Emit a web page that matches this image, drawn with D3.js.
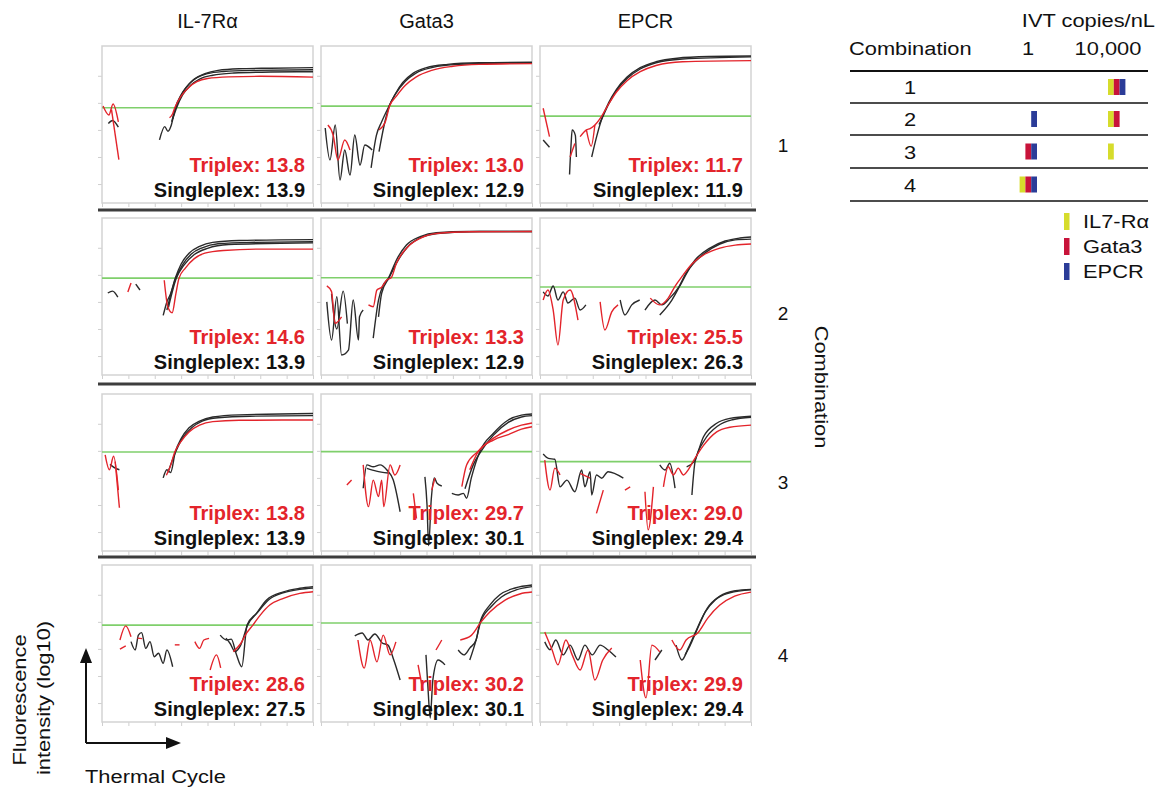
<!DOCTYPE html>
<html>
<head>
<meta charset="utf-8">
<script src="https://cdn.jsdelivr.net/npm/d3@7"></script>
<style>
  body { margin: 0; background: #fff; }
  text { font-family: "Liberation Sans", Arial, sans-serif; }
</style>
</head>
<body>
<svg id="fig" width="1160" height="792"></svg>
<script>
// ---- data ----
const genes = ["IL-7Rα", "Gata3", "EPCR"];
const combos = ["1", "2", "3", "4"];
const triplexCt = [[13.8, 13.0, 11.7], [14.6, 13.3, 25.5], [13.8, 29.7, 29.0], [28.6, 30.2, 29.9]];
const singleplexCt = [[13.9, 12.9, 11.9], [13.9, 12.9, 26.3], [13.9, 30.1, 29.4], [27.5, 30.1, 29.4]];
// threshold (log10 fluorescence) per panel
const thresholds = [[2.82, 2.88, 2.51], [2.88, 2.89, 2.55], [2.96, 2.97, 2.6], [2.88, 2.96, 2.59]];

// amplification traces: [cycle, log10 fluorescence]; k: "s" singleplex (black), "t" triplex (red)
const il7r_combo1 = [
  {k: "s", p: [[10.9,1.63],[11.9,2.12],[12.5,1.95],[13.1,2.15],[13.9,2.82],[15,3.3],[16,3.58],[17.5,3.88],[19.5,4.08],[22,4.2],[26,4.26],[32,4.28],[40,4.3]]},
  {k: "s", p: [[13.2,2.3],[14.0,2.82],[15.2,3.35],[16.5,3.7],[18,3.93],[20,4.08],[23,4.16],[28,4.2],[40,4.22]]},
  {k: "s", p: [[13.4,2.4],[14.1,2.8],[15.3,3.3],[16.8,3.65],[18.5,3.88],[21,4.02],[25,4.1],[32,4.14],[40,4.15]]},
  {k: "s", p: [[1.2,2.24],[2.0,2.35],[3.1,2.1]]},
  {k: "t", p: [[12.8,2.45],[13.4,2.6],[13.8,2.82],[15,3.25],[16.5,3.58],[18,3.78],[20,3.9],[24,3.96],[30,3.98],[40,3.95]]},
  {k: "t", p: [[0.2,2.88],[1.3,2.55],[2.1,2.96],[3.1,2.3]]},
  {k: "t", p: [[1.8,2.75],[3.2,0.9]]}
];
const gata3_combo1 = [
  {k: "s", p: [[0.8,2.07],[1.7,0.89],[2.7,2.18],[3.6,0.15],[4.5,1.26],[5.5,0.33],[6.4,1.81],[7.4,0.7],[8.3,1.44],[9.7,1.26]]},
  {k: "s", p: [[9.5,0.6],[10.5,1.8],[11.5,2.3],[12.9,2.88],[14,3.3],[15.5,3.75],[17.5,4.1],[20,4.3],[24,4.42],[30,4.48],[40,4.5]]},
  {k: "s", p: [[11.0,1.2],[12,2.2],[12.95,2.88],[14.2,3.35],[16,3.8],[18,4.1],[21,4.3],[26,4.42],[40,4.48]]},
  {k: "t", p: [[1.3,2.18],[2.3,1.81],[3.2,0.89],[4.5,1.63],[5.5,1.26]]},
  {k: "t", p: [[11,2.0],[12.2,2.3],[13,2.88],[14.3,3.25],[16,3.65],[18,3.95],[21,4.2],[25,4.35],[30,4.42],[40,4.45]]}
];
const epcr_combo1 = [
  {k: "s", p: [[0.6,1.63],[1.8,1.36]]},
  {k: "s", p: [[5.6,0.35],[5.9,1.5],[6.1,2.0],[6.7,1.8],[6.9,1.0]]},
  {k: "s", p: [[9.8,1.0],[10.8,1.8],[11.9,2.51],[13,3.0],[14.5,3.5],[16.5,3.95],[19,4.3],[22,4.52],[26,4.65],[32,4.71],[40,4.73]]},
  {k: "s", p: [[11.2,2.2],[11.95,2.51],[13,2.95],[14.5,3.45],[16.5,3.9],[19,4.25],[22,4.48],[27,4.62],[40,4.7]]},
  {k: "t", p: [[0.6,2.8],[1.8,1.75]]},
  {k: "t", p: [[5.7,1.0],[6.6,1.5]]},
  {k: "t", p: [[7.6,1.75],[8.8,2.0],[9.5,2.05],[10.4,2.18],[11.7,2.51],[13,2.95],[14.5,3.4],[16.5,3.82],[19,4.15],[22,4.38],[27,4.52],[40,4.56]]},
  {k: "t", p: [[8.8,2.0],[9.7,1.4],[10.4,2.18]]}
];
const il7r_combo2 = [
  {k: "s", p: [[1.1,2.33],[2.0,2.4],[3.0,2.18]]},
  {k: "s", p: [[6.4,2.66],[7.2,2.44]]},
  {k: "s", p: [[11.6,1.5],[12.3,2.0],[13.0,2.3],[13.9,2.88],[15,3.4],[16.5,3.8],[18.5,4.05],[21,4.2],[26,4.27],[40,4.3]]},
  {k: "s", p: [[12.3,1.7],[13.2,2.4],[14.0,2.88],[15.2,3.35],[17,3.78],[19,4.0],[22,4.15],[28,4.2],[40,4.22]]},
  {k: "s", p: [[12.6,1.8],[14.1,2.88],[15.5,3.35],[17.5,3.75],[20,3.98],[24,4.12],[40,4.18]]},
  {k: "t", p: [[4.9,2.37],[5.5,2.7]]},
  {k: "t", p: [[11.8,2.8],[12.5,1.8],[13.3,1.6],[14.0,2.3],[14.6,2.88],[15.8,3.25],[17.5,3.6],[19.5,3.8],[23,3.9],[30,3.95],[40,3.95]]}
];
const gata3_combo2 = [
  {k: "s", p: [[1.1,2.0],[2.0,0.59],[3.0,2.19],[3.9,0.04],[5.2,0.22],[6.1,2.07],[7.1,0.59],[7.3,1.45],[8.0,1.7]]},
  {k: "s", p: [[2.0,2.3],[3.0,1.0],[4.2,2.4],[5.0,1.2]]},
  {k: "s", p: [[9.9,0.66],[10.9,2.07],[11.8,2.62],[12.75,2.87],[14.3,3.55],[16.2,4.1],[18.8,4.41],[21.9,4.56],[28,4.6],[40,4.6]]},
  {k: "s", p: [[10.9,1.45],[11.5,2.32],[12.9,2.89],[14.5,3.5],[16.5,4.05],[19,4.38],[22,4.53],[30,4.6],[40,4.6]]},
  {k: "t", p: [[1.1,2.59],[2.0,2.38],[2.65,1.21],[3.9,1.45]]},
  {k: "t", p: [[9.0,1.89],[9.9,1.82],[10.6,2.44],[11.5,2.54],[12.45,2.81],[13.3,2.89],[14.3,3.43],[16.2,3.98],[18.8,4.35],[21.9,4.53],[28.2,4.59],[40,4.6]]}
];
const epcr_combo2 = [
  {k: "s", p: [[0.6,2.37],[1.5,2.22],[2.5,2.59],[3.4,2.07],[4.4,2.37],[5.3,1.96],[6.6,2.14],[7.6,1.7],[8.7,1.89]]},
  {k: "s", p: [[15.2,2.07],[16.1,1.52],[17.4,1.89],[18.9,2.07]]},
  {k: "s", p: [[19.9,1.7],[21.8,2.07],[23.1,1.89],[24.6,2.14],[26.3,2.55],[27.5,3.0],[29.4,3.55],[32.2,3.99],[35.1,4.25],[37.9,4.36],[40,4.4]]},
  {k: "s", p: [[22.7,1.52],[25,2.07],[26.4,2.55],[28.4,3.25],[31.3,3.81],[34.1,4.14],[37,4.29],[40,4.32]]},
  {k: "t", p: [[0.6,2.07],[1.5,2.44],[2.5,1.7],[3.4,0.41],[4.4,2.07],[5.7,2.44],[7.2,1.33]]},
  {k: "t", p: [[11.4,2.0],[12.3,0.96],[13.6,1.63],[14.8,1.89]]},
  {k: "t", p: [[20.9,2.14],[22.7,1.89],[24.3,2.14],[25.5,2.55],[27,2.96],[28.8,3.4],[31.3,3.77],[34.1,3.99],[37,4.1],[40,4.14]]}
];
const il7r_combo3 = [
  {k: "s", p: [[1.5,2.5],[2.6,2.35],[3.3,2.3]]},
  {k: "s", p: [[11.6,2.0],[12.3,2.3],[13.0,2.2],[13.9,2.96],[15,3.45],[16.5,3.85],[18.5,4.1],[21,4.25],[26,4.33],[40,4.38]]},
  {k: "s", p: [[12.5,2.2],[13.95,2.96],[15.2,3.45],[17,3.85],[19,4.1],[22,4.22],[28,4.28],[40,4.3]]},
  {k: "t", p: [[0.6,2.85],[1.4,2.3],[2.2,2.8],[3.1,1.55]]},
  {k: "t", p: [[2.5,2.6],[3.3,0.9]]},
  {k: "t", p: [[12.2,2.1],[12.9,2.4],[13.8,2.96],[15,3.35],[16.5,3.7],[18.5,3.95],[21,4.08],[26,4.13],[40,4.14]]}
];
const gata3_combo3 = [
  {k: "t", p: [[4.9,1.74],[5.8,1.92]]},
  {k: "t", p: [[8.0,2.48],[9.0,0.94],[9.9,1.92],[10.9,1.31],[11.5,1.92],[11.9,0.94],[13.1,2.48],[14.0,2.11],[15.0,2.48]]},
  {k: "s", p: [[8.0,1.62],[8.7,2.48],[9.9,2.41],[11.2,2.48],[12.5,2.29],[13.7,1.92],[15.0,0.75]]},
  {k: "s", p: [[8.7,2.35],[10.5,2.25],[12.7,2.18]]},
  {k: "t", p: [[17.5,1.43],[18.1,0.5]]},
  {k: "s", p: [[19.7,2.04],[20.1,1.0],[20.4,-0.5],[20.9,1.2],[21.5,2.0],[22.0,1.8],[22.9,1.7]]},
  {k: "t", p: [[21.0,1.55],[21.6,1.99]]},
  {k: "s", p: [[24.8,1.43],[26.0,1.37],[27.0,1.43],[27.6,1.25],[28.5,2.0],[30.1,2.97],[32.7,3.65],[35.5,4.14],[38,4.32],[40,4.36]]},
  {k: "s", p: [[27.3,1.6],[28.9,2.5],[30.3,2.97],[32.7,3.58],[35.5,4.05],[38,4.25],[40,4.3]]},
  {k: "t", p: [[26.7,1.68],[27.6,2.48],[29.7,2.97],[32.7,3.47],[35.5,3.77],[38,3.95],[40,4.03]]},
  {k: "t", p: [[28.2,2.3],[29.8,2.97],[32.7,3.4],[35.5,3.6],[38,3.8],[40,3.89]]}
];
const epcr_combo3 = [
  {k: "s", p: [[0.6,2.88],[1.6,2.72],[2.8,2.69],[3.8,1.67],[5.1,1.92],[6.6,1.49],[7.9,2.29],[8.5,1.67],[9.5,2.23],[9.8,1.37],[10.7,2.11],[11.7,1.99],[12.9,2.23],[15.8,1.99]]},
  {k: "t", p: [[0.9,2.66],[1.9,1.55],[2.8,2.36],[3.8,2.11]]},
  {k: "t", p: [[7.6,2.17],[9.5,1.99]]},
  {k: "t", p: [[10.7,0.69],[12.0,1.55]]},
  {k: "t", p: [[16.1,1.55],[17.1,1.67]]},
  {k: "t", p: [[19.9,1.49],[20.5,0.08],[21.5,1.67]]},
  {k: "s", p: [[22.7,2.48],[23.7,2.29],[24.6,2.54],[25.6,1.62]]},
  {k: "t", p: [[23.4,1.67],[24.3,2.41],[25.3,2.11],[26.2,2.36],[27.2,2.11],[28.1,2.3],[29.0,2.6],[31,3.2],[33.5,3.7],[36,3.87],[40,3.95]]},
  {k: "s", p: [[27.8,2.41],[29.2,2.6],[31,3.52],[33.5,4.02],[36,4.2],[40,4.28]]},
  {k: "s", p: [[28.8,1.37],[29.4,2.6],[31.2,3.4],[33.7,3.92],[36.5,4.15],[40,4.24]]}
];
const il7r_combo4 = [
  {k: "t", p: [[3.4,2.33],[4.5,2.85],[5.5,2.45]]},
  {k: "t", p: [[3.4,1.99],[4.5,2.11]]},
  {k: "t", p: [[6.7,2.4],[7.6,2.38]]},
  {k: "s", p: [[5.5,2.27],[6.3,1.96],[6.9,2.51],[7.5,2.6],[8.3,2.02],[9.1,2.27],[9.9,1.71],[10.7,1.84],[11.6,1.47],[12.3,1.96],[13.4,1.34]]},
  {k: "t", p: [[13.8,2.15],[14.7,2.15]]},
  {k: "t", p: [[17.6,2.27],[18.5,2.02],[19.3,2.33],[20.3,2.39]]},
  {k: "t", p: [[20.5,1.22],[21.7,1.78],[22.5,1.3]]},
  {k: "s", p: [[22.4,2.51],[23.6,2.33],[24.5,2.36],[25.5,1.78],[26.5,1.34],[27.5,2.88],[29.3,3.32],[31.2,3.81],[34.4,4.11],[37.5,4.24],[40,4.3]]},
  {k: "s", p: [[23.5,2.4],[24.3,2.2],[25.2,1.9],[26.2,2.1],[27.6,2.88],[29.5,3.35],[31.5,3.8],[34.5,4.08],[37.5,4.2],[40,4.25]]},
  {k: "t", p: [[24.9,1.9],[26.3,2.2],[27.4,2.58],[28.6,2.88],[30,3.25],[31.8,3.62],[34.4,3.87],[37.5,4.05],[40,4.11]]}
];
const gata3_combo4 = [
  {k: "s", p: [[6.4,2.48],[7.8,2.59],[8.9,2.33],[10.2,2.55],[11.6,2.22],[12.7,2.14],[13.8,1.59],[15.0,0.85]]},
  {k: "t", p: [[7.0,2.33],[8.2,1.29],[9.3,2.33],[10.6,1.52],[11.8,2.51],[13.1,1.78],[14.2,2.26]]},
  {k: "s", p: [[19.9,1.78],[20.3,0.48],[20.7,-0.55],[21.2,0.85],[22.2,1.59],[23.5,1.41]]},
  {k: "t", p: [[18.4,1.41],[19.3,0.48]]},
  {k: "t", p: [[21.8,1.96],[22.9,2.33]]},
  {k: "s", p: [[26.0,1.96],[27.1,1.78],[28.2,2.03],[29.4,2.33],[30.1,2.96],[32,3.62],[33.9,4.0],[36.8,4.25],[40,4.36]]},
  {k: "s", p: [[28.2,1.59],[29.5,2.4],[30.2,2.96],[32.2,3.55],[34.2,3.92],[37,4.18],[40,4.3]]},
  {k: "t", p: [[26.4,2.33],[28.5,2.5],[30.2,2.96],[32,3.36],[34.9,3.8],[37.7,4.03],[40,4.1]]}
];
const epcr_combo4 = [
  {k: "s", p: [[0.9,2.26],[1.9,1.97],[3.0,2.33],[4.4,1.78],[5.7,2.14],[7.2,1.59],[8.5,2.14],[9.9,1.78],[11.4,2.14],[12.9,1.96],[14.4,1.7]]},
  {k: "t", p: [[0.9,2.62],[2.3,1.96],[3.4,1.41],[4.9,2.33],[6.1,1.78],[7.6,1.22],[9.1,1.96],[10.4,0.85],[11.9,1.59],[13.6,2.03]]},
  {k: "t", p: [[19.0,1.59],[20.1,0.19],[21.2,2.14],[22.7,1.89]]},
  {k: "s", p: [[21.8,1.59],[23.1,1.96]]},
  {k: "s", p: [[25.8,2.14],[26.9,1.59],[28.1,2.03],[29.4,2.59],[31.3,3.36],[33.2,3.81],[36,4.07],[40,4.18]]},
  {k: "s", p: [[27.5,1.78],[28.4,2.1],[29.5,2.59],[31.7,3.5],[34.1,3.95],[37,4.15],[40,4.2]]},
  {k: "t", p: [[25,2.33],[26.5,1.96],[27.7,2.33],[29.9,2.59],[31.8,3.14],[34.1,3.62],[36.9,3.95],[40,4.1]]}
];

// legend table
const ivtLevels = ["1", "10,000"];
const legendGenes = ["IL7-Rα", "Gata3", "EPCR"];
const geneColors = ["#d6dc2c", "#c8133a", "#2b3c98"];
const comboLow = [[], ["EPCR"], ["Gata3", "EPCR"], ["IL7-Rα", "Gata3", "EPCR"]];
const comboHigh = [["IL7-Rα", "Gata3", "EPCR"], ["IL7-Rα", "Gata3"], ["IL7-Rα"], []];

const panelCurves = [
  [il7r_combo1, gata3_combo1, epcr_combo1],
  [il7r_combo2, gata3_combo2, epcr_combo2],
  [il7r_combo3, gata3_combo3, epcr_combo3],
  [il7r_combo4, gata3_combo4, epcr_combo4]
];

// ---- layout ----
const svg = d3.select("#fig");
const colLeft = [102, 321, 540];
const rowTop = [46, 218, 394, 565];
const pw = 211, ph = 157;
const red = "#e3242b";

const x = d3.scaleLinear().domain([0, 40]).range([0, pw]);
const y = d3.scaleLinear().domain([-0.7, 5.1]).range([ph, 0]);
const line = d3.line().x(d => x(d[0])).y(d => y(d[1])).curve(d3.curveMonotoneX);

function label(g, px, py, txt, o = {}) {
  return g.append("text")
    .attr("transform", `translate(${px},${py}) rotate(${o.rot || 0}) scale(${o.sx || 1.15},1)`)
    .attr("text-anchor", o.anchor || "start")
    .style("font-size", (o.size || 19) + "px")
    .style("fill", o.fill || "#111")
    .text(txt);
}

combos.forEach((combo, r) => {
  genes.forEach((gene, c) => {
    const g = svg.append("g").attr("transform", `translate(${colLeft[c]},${rowTop[r]})`);

    g.append("g").attr("transform", `translate(0,${ph})`)
      .call(d3.axisBottom(x).tickValues(d3.range(0, 41, 5)).tickSize(4).tickFormat(""))
      .call(a => a.select(".domain").remove())
      .call(a => a.selectAll("line").attr("stroke", "#cfcfcf"));
    g.append("g")
      .call(d3.axisLeft(y).tickValues([0, 1, 2, 3, 4]).tickSize(4).tickFormat(""))
      .call(a => a.select(".domain").remove())
      .call(a => a.selectAll("line").attr("stroke", "#cfcfcf"));

    g.append("rect").attr("width", pw).attr("height", ph)
      .attr("fill", "none").attr("stroke", "#d3d3d3").attr("stroke-width", 1.5);

    g.append("line").attr("x1", 0).attr("x2", pw)
      .attr("y1", y(thresholds[r][c])).attr("y2", y(thresholds[r][c]))
      .attr("stroke", "#7fcf6b").attr("stroke-width", 1.6);

    const series = panelCurves[r][c];
    const ordered = series.filter(s => s.k === "s").concat(series.filter(s => s.k === "t"));
    g.selectAll("path.trace").data(ordered).join("path")
      .attr("class", "trace")
      .attr("d", s => line(s.p))
      .attr("fill", "none")
      .attr("stroke", s => s.k === "t" ? red : "#2a2a2a")
      .attr("stroke-width", 1.4);

    g.append("text").attr("x", pw - 8).attr("y", ph - 31)
      .attr("text-anchor", "end").style("font-size", "20px").style("font-weight", 700)
      .style("fill", red).text("Triplex: " + triplexCt[r][c].toFixed(1));
    g.append("text").attr("x", pw - 8).attr("y", ph - 6)
      .attr("text-anchor", "end").style("font-size", "20px").style("font-weight", 700)
      .style("fill", "#111").text("Singleplex: " + singleplexCt[r][c].toFixed(1));
  });

  label(svg, 783, [152, 320, 489, 662][r], combo, {anchor: "middle", sx: 1});
  if (r < combos.length - 1) {
    const ly = [210, 384, 557][r];
    svg.append("line").attr("x1", 98).attr("x2", 756).attr("y1", ly).attr("y2", ly)
      .attr("stroke", "#3d3d3d").attr("stroke-width", 3);
  }
});

genes.forEach((gene, c) => label(svg, colLeft[c] + pw / 2, 28, gene, {anchor: "middle", sx: 1, size: 20}));
label(svg, 815, 387, "Combination", {anchor: "middle", rot: 90});

// axis arrows
const arrows = svg.append("g").attr("stroke", "#111").attr("fill", "#111");
arrows.append("path").attr("d", "M86,743 V660").attr("stroke-width", 2).attr("fill", "none");
arrows.append("path").attr("d", "M86,743 H168").attr("stroke-width", 2).attr("fill", "none");
arrows.append("path").attr("d", "M86,648 L80,663 L92,663 Z").attr("stroke", "none");
arrows.append("path").attr("d", "M181,743 L166,737 L166,749 Z").attr("stroke", "none");
label(svg, 26, 700, "Fluorescence", {anchor: "middle", rot: -90});
label(svg, 50, 698, "intensity (log10)", {anchor: "middle", rot: -90});
label(svg, 85, 783, "Thermal Cycle");

// legend table
const tab = svg.append("g");
label(tab, 1155, 27, "IVT copies/nL", {anchor: "end"});
label(tab, 849, 55, "Combination");
const colX = d3.scaleOrdinal().domain(ivtLevels).range([1028, 1108]);
ivtLevels.forEach(l => label(tab, colX(l), 55, l, {anchor: "middle"}));
const lineY = [71, 103, 135, 168, 201];
lineY.forEach((ly, i) => tab.append("line").attr("x1", 850).attr("x2", 1148)
  .attr("y1", ly).attr("y2", ly).attr("stroke", "#111").attr("stroke-width", i === 0 ? 2 : 1.6));
const slotW = 5.8;
const gi = d3.scaleOrdinal().domain(legendGenes).range([0, 1, 2]);
combos.forEach((combo, r) => {
  const cy = (lineY[r] + lineY[r + 1]) / 2;
  label(tab, 910, cy + 7, combo, {anchor: "middle"});
  comboLow[r].forEach(gn => tab.append("rect")
    .attr("x", 1037 - (3 - gi(gn)) * slotW).attr("y", cy - 8).attr("width", slotW).attr("height", 16)
    .attr("fill", geneColors[gi(gn)]));
  comboHigh[r].forEach(gn => tab.append("rect")
    .attr("x", 1108 + gi(gn) * slotW).attr("y", cy - 8).attr("width", slotW).attr("height", 16)
    .attr("fill", geneColors[gi(gn)]));
});
legendGenes.forEach((gn, i) => {
  const ly = 213 + i * 25;
  tab.append("rect").attr("x", 1064).attr("y", ly).attr("width", 5.5).attr("height", 17)
    .attr("fill", geneColors[i]);
  label(tab, 1083, ly + 15, gn);
});
</script>
</body>
</html>
